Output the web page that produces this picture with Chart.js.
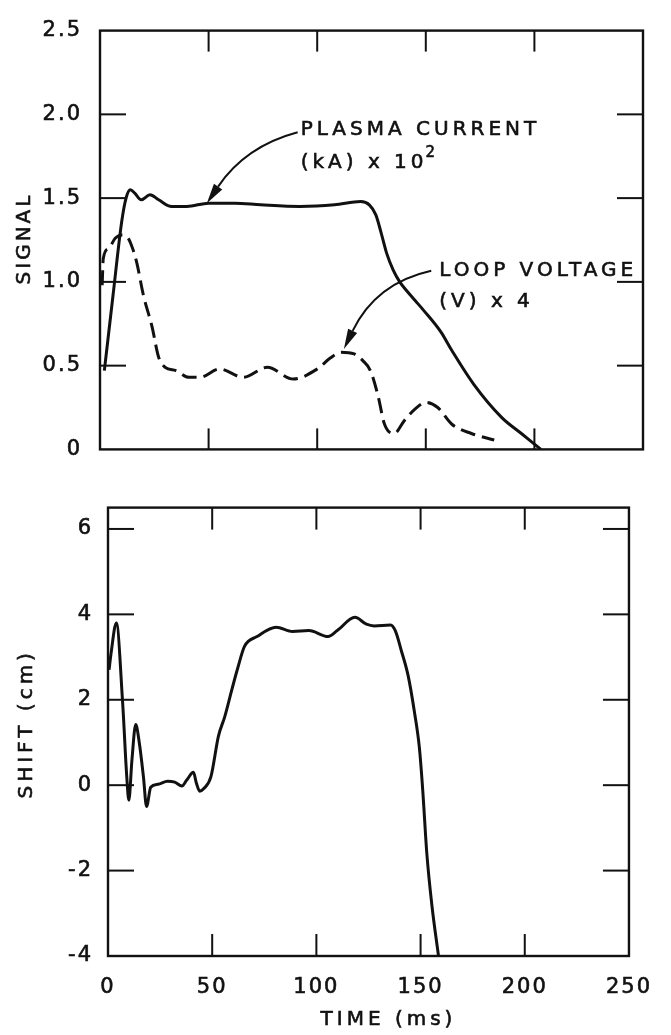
<!DOCTYPE html>
<html><head><meta charset="utf-8">
<script src="https://cdn.jsdelivr.net/npm/chart.js@4.4.1/dist/chart.umd.min.js"></script>
<style>
html,body{margin:0;padding:0;background:#fff;}
body{width:671px;height:1035px;position:relative;overflow:hidden;}
canvas{position:absolute;left:0;}
#c1{top:0;}
#c2{top:480px;}
</style></head><body>
<canvas id="c1" width="671" height="480"></canvas>
<canvas id="c2" width="671" height="555"></canvas>
<script>
// ---- data ----
const timeTicks = [0, 50, 100, 150, 200, 250];
const timeLabels = ['0', '50', '100', '150', '200', '250'];
const signalTicks = [0, 0.5, 1.0, 1.5, 2.0, 2.5];
const signalLabels = ['0', '0.5', '1.0', '1.5', '2.0', '2.5'];
const shiftTicks = [-4, -2, 0, 2, 4, 6];
const shiftLabels = ['-4', '-2', '0', '2', '4', '6'];

const plasmaTime    = [2, 6, 10, 12, 14, 16, 19, 23, 27, 33, 40, 50, 62, 74, 92, 108, 120, 124, 127, 129.5, 132, 135, 138, 141, 145, 149, 157, 162, 172, 185, 194, 203];
const plasmaCurrent = [0.47, 0.92, 1.36, 1.5, 1.55, 1.53, 1.49, 1.52, 1.49, 1.45, 1.45, 1.47, 1.47, 1.46, 1.45, 1.46, 1.48, 1.46, 1.40, 1.29, 1.17, 1.07, 1.0, 0.95, 0.89, 0.83, 0.70, 0.59, 0.39, 0.19, 0.095, 0];

const loopTime    = [1, 1.5, 4, 7, 10, 13, 15, 17, 20, 24, 27, 30, 35, 41, 46, 55, 66, 77, 89, 100, 106, 111, 117, 121, 124.5, 128, 131, 135.5, 140, 145, 150, 155.5, 162, 171, 181.5];
const loopVoltage = [0.98, 1.14, 1.2, 1.26, 1.28, 1.26, 1.2, 1.11, 0.92, 0.73, 0.55, 0.49, 0.47, 0.43, 0.43, 0.48, 0.43, 0.49, 0.42, 0.48, 0.545, 0.58, 0.57, 0.53, 0.47, 0.32, 0.15, 0.095, 0.17, 0.24, 0.28, 0.25, 0.15, 0.095, 0.056];

const shiftTime  = [0.5, 1.5, 4, 7, 9, 10, 11.5, 13.3, 15, 17, 18.5, 20.5, 24, 28.6, 32, 35.5, 37.8, 41, 42.4, 44, 46, 49.4, 53, 56, 59.5, 62.3, 65.5, 71.5, 80.7, 88.6, 96.4, 105.6, 110, 118.5, 124, 127.8, 135.6, 138, 140.7, 144, 147, 149.4, 151, 153, 155.4, 158.6];
const shiftValue = [2.7, 3.1, 3.8, 1.95, 0.2, -0.35, 0.6, 1.42, 1.0, 0.2, -0.5, -0.05, 0.02, 0.09, 0.07, -0.02, 0.12, 0.3, 0.05, -0.14, -0.08, 0.2, 1.15, 1.6, 2.25, 2.75, 3.25, 3.48, 3.7, 3.6, 3.62, 3.48, 3.62, 3.93, 3.77, 3.73, 3.75, 3.6, 3.16, 2.57, 1.73, 0.89, -0.09, -1.6, -2.8, -4];

// ---- helpers ----
const INK = '#111';
const FONT = 'DejaVu Sans';
Chart.defaults.font.family = FONT;
Chart.defaults.font.size = 21;
Chart.defaults.color = INK;

const pts = (xs, ys) => xs.map((x, i) => ({ x, y: ys[i] }));

const spacing = {
  id: 'spacing',
  beforeUpdate(chart) { chart.ctx.letterSpacing = '2px'; },
  beforeDraw(chart) { chart.ctx.letterSpacing = '2px'; }
};

const frame = {
  id: 'frame',
  afterDatasetsDraw(chart, args, o) {
    const { ctx, chartArea: { left, right, top, bottom }, scales: { x, y } } = chart;
    ctx.save();
    ctx.strokeStyle = INK;
    ctx.lineWidth = 2.4;
    ctx.strokeRect(left, top, right - left, bottom - top);
    ctx.lineWidth = 2;
    const seg = (a, b, c, d) => { ctx.beginPath(); ctx.moveTo(a, b); ctx.lineTo(c, d); ctx.stroke(); };
    x.ticks.forEach(t => {
      if (t.value <= x.min || t.value >= x.max) return;
      const p = x.getPixelForValue(t.value);
      seg(p, top, p, top + o.xLen);
      seg(p, bottom, p, bottom - o.xLen);
    });
    y.ticks.forEach(t => {
      if (t.value <= y.min || t.value >= y.max) return;
      const p = y.getPixelForValue(t.value);
      seg(left, p, left + o.yLen, p);
      seg(right, p, right - o.yLen, p);
    });
    ctx.restore();
  }
};

const texts = {
  id: 'texts',
  afterDraw(chart, args, o) {
    const { ctx, chartArea: ca, scales: { x, y } } = chart;
    ctx.save();
    ctx.fillStyle = INK; ctx.strokeStyle = INK;
    const put = (s, px, py) => { ctx.lineWidth = 0.6; ctx.fillText(s, px, py); ctx.strokeText(s, px, py); };
    // axis titles
    (o.titles || []).forEach(t => {
      ctx.save();
      ctx.font = `20px ${FONT}`;
      ctx.letterSpacing = t.ls + 'px';
      ctx.textAlign = 'center'; ctx.textBaseline = 'middle';
      const cx = t.side === 'left' ? ca.left + t.dx : (ca.left + ca.right) / 2 + t.dx;
      const cy = t.side === 'left' ? (ca.top + ca.bottom) / 2 + t.dy : ca.bottom + t.dy;
      ctx.translate(cx, cy);
      if (t.side === 'left') ctx.rotate(-Math.PI / 2);
      put(t.text, t.ls / 2, 0);
      ctx.restore();
    });
    // annotation labels
    (o.labels || []).forEach(l => {
      ctx.save();
      ctx.font = `20px ${FONT}`;
      ctx.letterSpacing = '4px';
      ctx.textAlign = 'left'; ctx.textBaseline = 'middle';
      const px = x.getPixelForValue(l.at[0]), py = y.getPixelForValue(l.at[1]);
      put(l.text, px, py);
      if (l.sup) {
        const w = ctx.measureText(l.text).width;
        ctx.font = `15px ${FONT}`;
        ctx.letterSpacing = '0px';
        put(l.sup, px + w - 2, py - 9);
      }
      ctx.restore();
    });
    // arrows
    (o.arrows || []).forEach(a => {
      const P = v => [x.getPixelForValue(v[0]), y.getPixelForValue(v[1])];
      const [x0, y0] = P(a.from), [cx, cy] = P(a.ctrl), [x1, y1] = P(a.to);
      const ang = Math.atan2(y1 - cy, x1 - cx);
      const L = 20, W = 5;
      const bx = x1 - L * Math.cos(ang), by = y1 - L * Math.sin(ang);
      ctx.lineWidth = 2;
      ctx.beginPath(); ctx.moveTo(x0, y0); ctx.quadraticCurveTo(cx, cy, bx, by); ctx.stroke();
      ctx.beginPath();
      ctx.moveTo(x1, y1);
      ctx.lineTo(bx + W * Math.sin(ang), by - W * Math.cos(ang));
      ctx.lineTo(bx - W * Math.sin(ang), by + W * Math.cos(ang));
      ctx.closePath(); ctx.fill();
    });
    ctx.restore();
  }
};

function xScale(showLabels, h) {
  return {
    type: 'linear', min: 0, max: 250,
    afterBuildTicks: s => { s.ticks = timeTicks.map(v => ({ value: v })); },
    afterFit: s => { s.height = h; },
    grid: { display: false, drawTicks: false },
    border: { display: false },
    ticks: { display: showLabels, padding: 19, textStrokeColor: INK, textStrokeWidth: 0.6, callback: (v, i) => timeLabels[i] }
  };
}
function yScale(min, max, ticks, labels, w, pad) {
  return {
    type: 'linear', min, max,
    afterBuildTicks: s => { s.ticks = ticks.map(v => ({ value: v })); },
    afterFit: s => { s.width = w; },
    grid: { display: false, drawTicks: false },
    border: { display: false },
    ticks: { padding: pad, textStrokeColor: INK, textStrokeWidth: 0.6, callback: (v, i) => labels[i] }
  };
}
const lineStyle = { borderColor: INK, borderWidth: 3, pointRadius: 0, fill: false, cubicInterpolationMode: 'monotone' };

new Chart(document.getElementById('c1'), {
  type: 'line',
  data: {
    datasets: [
      Object.assign({ label: 'Plasma current (kA) x 10^2', data: pts(plasmaTime, plasmaCurrent) }, lineStyle),
      Object.assign({ label: 'Loop voltage (V) x 4', data: pts(loopTime, loopVoltage), borderDash: [15, 7] }, lineStyle)
    ]
  },
  options: {
    responsive: false, animation: false,
    layout: { padding: { top: 22, right: 28, left: 0, bottom: 0 } },
    scales: { x: xScale(false, 13), y: yScale(0, 2.5, signalTicks, signalLabels, 100, 18) },
    plugins: {
      legend: { display: false }, tooltip: { enabled: false },
      frame: { xLen: 21, yLen: 26 },
      texts: {
        titles: [{ text: 'SIGNAL', side: 'left', dx: -75, dy: 0, ls: 3 }],
        labels: [
          { text: 'PLASMA CURRENT', at: [92.4, 1.91] },
          { text: '(kA) x 10', sup: '2', at: [92.4, 1.713] },
          { text: 'LOOP VOLTAGE', at: [156.2, 1.067] },
          { text: '(V) x 4', at: [156.2, 0.882] }
        ],
        arrows: [
          { from: [91.0, 1.893], ctrl: [67, 1.81], to: [49.2, 1.47] },
          { from: [152.5, 1.067], ctrl: [127, 0.994], to: [112.3, 0.60] }
        ]
      }
    }
  },
  plugins: [spacing, frame, texts]
});

new Chart(document.getElementById('c2'), {
  type: 'line',
  data: {
    datasets: [
      Object.assign({ label: 'Shift (cm)', data: pts(shiftTime, shiftValue) }, lineStyle)
    ]
  },
  options: {
    responsive: false, animation: false,
    layout: { padding: { top: 15, right: 21, left: 0, bottom: 0 } },
    scales: { x: xScale(true, 79), y: yScale(-4, 6.5, shiftTicks, shiftLabels, 108, 15) },
    plugins: {
      legend: { display: false }, tooltip: { enabled: false },
      frame: { xLen: 22, yLen: 26 },
      texts: {
        titles: [
          { text: 'SHIFT (cm)', side: 'left', dx: -81, dy: -6, ls: 4 },
          { text: 'TIME (ms)', side: 'bottom', dx: 18, dy: 64, ls: 4 }
        ]
      }
    }
  },
  plugins: [spacing, frame, texts]
});
</script>
</body></html>
